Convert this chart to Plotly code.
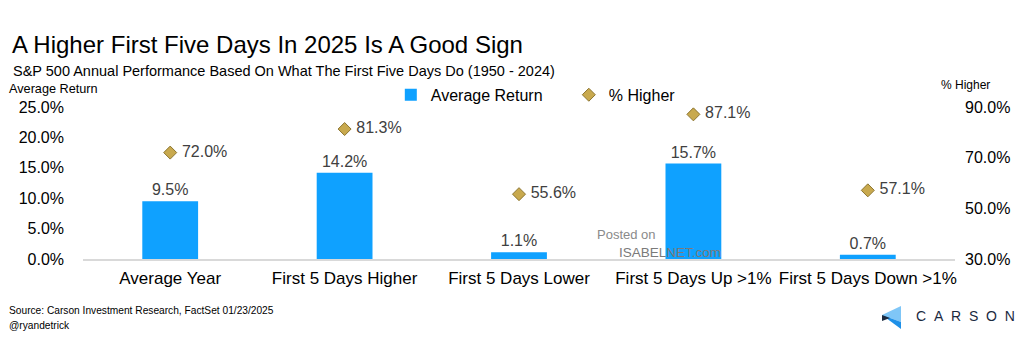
import plotly.graph_objects as go

categories = ["Average Year", "First 5 Days Higher", "First 5 Days Lower", "First 5 Days Up >1%", "First 5 Days Down >1%"]
avg_return = [9.5, 14.2, 1.1, 15.7, 0.7]
pct_higher = [72.0, 81.3, 55.6, 87.1, 57.1]
left_ticks = [0, 5, 10, 15, 20, 25]
right_ticks = [30, 50, 70, 90]

BAR = "#0FA1FF"
GOLD = "#C8A94E"
FONT = "Liberation Sans, Arial, sans-serif"

fig = go.Figure()
fig.add_trace(go.Bar(
    x=categories, y=avg_return, name="Average Return",
    marker=dict(color=BAR, line=dict(width=0)), width=0.32,
    text=[f"{v:.1f}%" for v in avg_return], textposition="outside",
    textfont=dict(size=16, color="#404040", family=FONT), cliponaxis=False,
))
fig.add_trace(go.Scatter(
    x=categories, y=pct_higher, name="% Higher", yaxis="y2", mode="markers+text",
    marker=dict(symbol="diamond", size=10, color=GOLD, line=dict(color="#8C7530", width=1)),
    text=[f" {v:.1f}%" for v in pct_higher], textposition="middle right",
    textfont=dict(size=16, color="#404040", family=FONT), cliponaxis=False,
))

# page body adds an 8px offset, so the figure is 8px smaller and margins shifted
fig.update_layout(
    width=1022, height=352,
    margin=dict(l=75, r=75, t=99, b=101),
    paper_bgcolor="white", plot_bgcolor="white",
    font=dict(family=FONT, color="black"),
    showlegend=True,
    legend=dict(orientation="h", x=0.353, y=1.08, xanchor="left", yanchor="middle",
                font=dict(size=16, color="black"), bgcolor="rgba(0,0,0,0)",
                itemwidth=30, tracegroupgap=0, entrywidth=133),
    bargap=0.68,
    xaxis=dict(showgrid=False, showline=True, linecolor="#D9D9D9", linewidth=1.5,
               ticks="", tickfont=dict(size=17, color="black"), zeroline=False,
               ticklabelstandoff=3),
    yaxis=dict(range=[0, 25], tickvals=left_ticks, ticktext=[f"{v:.1f}%" for v in left_ticks],
               showgrid=False, zeroline=False, tickfont=dict(size=16, color="black"),
               ticklabelstandoff=18),
    yaxis2=dict(range=[30, 90], tickvals=right_ticks, ticktext=[f"{v:.1f}%" for v in right_ticks],
                overlaying="y", side="right", showgrid=False, zeroline=False,
                tickfont=dict(size=16, color="black"), ticklabelstandoff=9),
)


def px(x, y):
    return (x - 83) / 872, (259 - y) / 152


anns = [
    dict(text="A Higher First Five Days In 2025 Is A Good Sign", x=10, y=45, size=24),
    dict(text="S&P 500 Annual Performance Based On What The First Five Days Do (1950 - 2024)", x=11, y=71, size=14.5),
    dict(text="Average Return", x=7, y=89, size=12.7),
    dict(text="% Higher", x=939, y=85, size=12),
    dict(text="Source: Carson Investment Research, FactSet 01/23/2025", x=7, y=310, size=10.2),
    dict(text="@ryandetrick", x=7, y=325, size=10.2),
]
for a in anns:
    xx, yy = px(a["x"], a["y"])
    fig.add_annotation(text=a["text"], xref="paper", yref="paper", x=xx, y=yy,
                       xanchor="left", yanchor="middle", showarrow=False,
                       font=dict(size=a["size"], color="black", family=FONT))

# watermark
xx, yy = px(595, 234)
fig.add_annotation(text="Posted on", xref="paper", yref="paper", x=xx, y=yy,
                   xanchor="left", yanchor="middle", showarrow=False,
                   font=dict(size=13, color="#8A8A8A", family=FONT))
xx, yy = px(617, 252)
fig.add_annotation(text="ISABELNET.com", xref="paper", yref="paper", x=xx, y=yy,
                   xanchor="left", yanchor="middle", showarrow=False,
                   font=dict(size=13.5, color="#7A7A7A", family=FONT))

# Carson logo
xx, yy = px(914, 316)
fig.add_annotation(text="C&nbsp;&nbsp;A&nbsp;&nbsp;R&nbsp;&nbsp;S&nbsp;&nbsp;O&nbsp;&nbsp;N", xref="paper", yref="paper",
                   x=xx, y=yy, xanchor="left", yanchor="middle", showarrow=False,
                   font=dict(size=14, color="#1B2A3F", family=FONT))
pts1 = [px(901, 306), px(882, 315), px(901, 322)]
pts2 = [px(882, 315), px(901, 322), px(901, 329)]
for pts, col in [(pts1, "#7FC6F7"), (pts2, "#1E90E8")]:
    path = "M " + " L ".join(f"{x},{y}" for x, y in pts) + " Z"
    fig.add_shape(type="path", xref="paper", yref="paper", path=path,
                  fillcolor=col, line=dict(width=0))
fig.add_shape(type="path", xref="paper", yref="paper",
              path="M {},{} L {},{} L {},{} Z".format(*px(882, 315), *px(890, 318), *px(882, 321)),
              fillcolor="#1B2A3F", line=dict(width=0))

fig.write_html("out.html")
